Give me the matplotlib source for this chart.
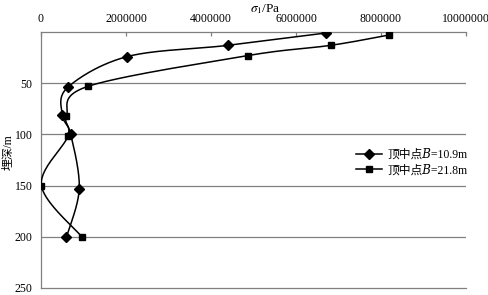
import numpy as np
import matplotlib
matplotlib.use("Agg")
import matplotlib.pyplot as plt
from matplotlib.lines import Line2D

plt.rcParams['font.family'] = ['Liberation Serif', 'Noto Sans CJK SC', 'DejaVu Serif']
plt.rcParams['mathtext.fontset'] = 'stix'

# Data
depth_b109 = [1, 13, 24, 54, 81, 100, 153, 200]
stress_b109 = [6700000, 4410000, 2030000, 630000, 500000, 700000, 900000, 600000]
depth_b218 = [3, 13, 23, 53, 82, 102, 150, 200]
stress_b218 = [8180000, 6820000, 4870000, 1110000, 600000, 630000, 10000, 960000]

series_labels = ['顶中点𝐵=10.9m', '顶中点𝐵=21.8m']
x_ticks = [0, 2000000, 4000000, 6000000, 8000000, 10000000]
y_ticks = [50, 100, 150, 200, 250]


def excel_smooth(x, y, n=40):
    pts = np.column_stack([x, y]).astype(float)
    out = []
    t = np.linspace(0, 1, n)[:, None]
    for i in range(len(pts) - 1):
        p0 = pts[i - 1] if i > 0 else pts[i]
        p1 = pts[i]
        p2 = pts[i + 1]
        p3 = pts[i + 2] if i + 2 < len(pts) else pts[i + 1]
        c1 = p1 + (p2 - p0) / 6.0
        c2 = p2 - (p3 - p1) / 6.0
        seg = ((1 - t) ** 3) * p1 + 3 * ((1 - t) ** 2) * t * c1 + 3 * (1 - t) * t ** 2 * c2 + t ** 3 * p2
        out.append(seg if i == 0 else seg[1:])
    s = np.vstack(out)
    return s[:, 0], s[:, 1]


fig = plt.figure(figsize=(4.89, 2.95), dpi=100)
ax = fig.add_axes([41 / 489, 1 - 288 / 295, (466 - 41) / 489, (288 - 32) / 295])

gray = '#808080'
for yv in [50, 100, 150, 200]:
    ax.axhline(yv, color=gray, lw=0.9, zorder=1)

for xs, ys, mk, ms in [(stress_b109, depth_b109, 'D', 5.5), (stress_b218, depth_b218, 's', 5.0)]:
    sx, sy = excel_smooth(xs, ys)
    ax.plot(sx, sy, color='black', lw=1.1, zorder=3)
    ax.plot(xs, ys, linestyle='none', marker=mk, ms=ms, color='black', zorder=4)

ax.set_xlim(0, 10000000)
ax.set_ylim(250, 0)
ax.xaxis.tick_top()
ax.set_xticks(x_ticks)
ax.set_xticklabels([str(v) for v in x_ticks], fontsize=8.5)
ax.set_yticks(y_ticks)
ax.set_yticklabels([str(v) for v in y_ticks], fontsize=8.5)
ax.tick_params(axis='x', direction='in', length=3, width=0.9, color=gray, pad=5)
ax.tick_params(axis='y', length=0, pad=6)
for side in ['right']:
    ax.spines[side].set_visible(False)
for side in ['top', 'left', 'bottom']:
    ax.spines[side].set_color(gray)
    ax.spines[side].set_linewidth(0.9)

fig.text(265 / 489, 1 - 9 / 295, r'$\sigma_1$/Pa', ha='center', va='center', fontsize=9.5)
fig.text(9 / 489, 1 - 152 / 295, '埋深/m', ha='center', va='center', rotation=90, fontsize=8.5)

handles = [Line2D([], [], color='black', lw=1.1, marker='D', ms=5.5),
           Line2D([], [], color='black', lw=1.1, marker='s', ms=5)]
leg = fig.legend(handles, series_labels, loc='upper left', bbox_to_anchor=(356 / 489, 1 - 149 / 295),
                 frameon=False, fontsize=8.5, handlelength=2.2, handletextpad=0.5,
                 labelspacing=0.3, borderpad=0, borderaxespad=0)

fig.savefig('out.png', dpi=100)
